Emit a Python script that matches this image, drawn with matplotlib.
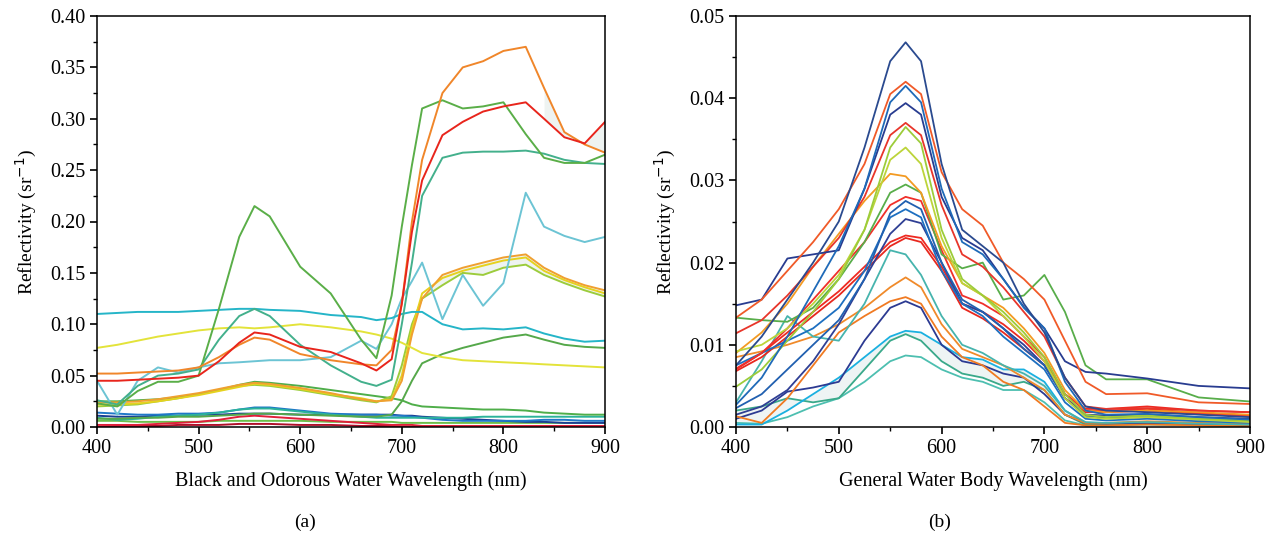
import numpy as np
import matplotlib
matplotlib.use("Agg")
import matplotlib.pyplot as plt
from matplotlib.ticker import MultipleLocator, FormatStrFormatter

plt.rcParams['font.family'] = ['Liberation Serif', 'DejaVu Serif']

# ---------------- (a) black and odorous water ----------------
wl_a = [400, 420, 440, 460, 480, 500, 520, 540, 555, 570, 600, 630, 660, 675, 690,
        700, 710, 720, 740, 760, 780, 800, 822, 840, 860, 880, 900]

a_orange = [.052, .052, .053, .054, .055, .058, .068, .080, .087, .085, .071, .065, .061, .060, .075,
            .120, .200, .260, .325, .350, .356, .366, .370, .330, .287, .275, .267]
a_red = [.045, .045, .046, .047, .048, .050, .064, .082, .092, .090, .078, .073, .062, .055, .066,
         .120, .190, .240, .284, .297, .307, .312, .316, .300, .282, .276, .297]
a_green_big = [.023, .020, .035, .044, .044, .050, .115, .185, .215, .205, .156, .130, .085, .067, .128,
               .195, .255, .310, .318, .310, .312, .316, .285, .262, .257, .257, .265]
a_teal_green = [.026, .022, .040, .050, .052, .056, .085, .108, .115, .108, .080, .060, .044, .040, .046,
                .100, .160, .225, .262, .267, .268, .268, .269, .266, .260, .257, .256]
a_cyan = [.110, .111, .112, .112, .112, .113, .114, .115, .115, .114, .113, .109, .107, .104, .106,
          .110, .112, .112, .100, .095, .096, .095, .097, .091, .086, .083, .084]
a_light_cyan = [.045, .012, .045, .058, .053, .058, .062, .063, .064, .065, .065, .068, .084, .076, .100,
                .125, .142, .160, .105, .148, .118, .140, .228, .195, .186, .180, .185]
a_yellow = [.077, .080, .084, .088, .091, .094, .096, .097, .096, .097, .100, .097, .093, .090, .086,
            .082, .077, .072, .068, .065, .064, .063, .062, .061, .060, .059, .058]
a_amber = [.024, .024, .025, .027, .030, .033, .037, .041, .043, .042, .038, .033, .027, .025, .026,
           .045, .090, .125, .148, .155, .160, .165, .168, .155, .145, .138, .133]
a_lime = [.020, .021, .022, .025, .028, .032, .036, .040, .041, .040, .036, .031, .026, .024, .030,
          .060, .100, .125, .138, .150, .148, .155, .158, .148, .140, .133, .127]
a_gold = [.022, .022, .023, .025, .028, .031, .035, .039, .042, .041, .037, .032, .028, .025, .027,
          .050, .095, .130, .145, .152, .157, .162, .165, .152, .143, .136, .130]
a_green_mid = [.008, .008, .009, .009, .010, .010, .011, .012, .013, .013, .012, .011, .010, .010, .012,
               .025, .045, .062, .071, .077, .082, .087, .090, .085, .080, .078, .077]
a_green_low = [.025, .025, .026, .027, .029, .032, .036, .041, .044, .043, .040, .036, .032, .030, .028,
               .026, .022, .020, .019, .018, .017, .017, .016, .014, .013, .012, .012]
a_teal_low = [.009, .007, .008, .010, .011, .012, .014, .017, .018, .018, .015, .012, .010, .009, .009,
              .009, .009, .009, .009, .009, .010, .010, .010, .010, .010, .010, .010]
a_blue_low = [.014, .013, .012, .012, .013, .013, .014, .017, .019, .019, .016, .013, .012, .012, .011,
              .011, .010, .009, .007, .006, .006, .006, .006, .007, .007, .006, .006]
a_navy_low = [.011, .010, .010, .011, .011, .012, .012, .013, .013, .013, .012, .012, .012, .012, .012,
              .011, .011, .010, .009, .008, .007, .006, .005, .005, .004, .004, .004]
a_red_low = [.002, .002, .002, .003, .004, .005, .007, .010, .011, .010, .008, .006, .004, .003, .002,
             .002, .002, .001, .001, .001, .001, .001, .001, .001, .001, .001, .001]
a_crimson = [.000, .001, .001, .001, .002, .002, .002, .003, .003, .003, .002, .002, .001, .001, .001,
             .000, .000, .000, .000, .000, .000, .000, .000, .000, .000, .000, .000]
a_green_flat = [.006, .006, .005, .005, .005, .005, .006, .006, .006, .006, .006, .005, .005, .005, .005,
                .004, .004, .004, .004, .004, .004, .004, .004, .004, .004, .004, .004]

curves_a = [
    (a_green_flat, '#6cbf4a'), (a_crimson, '#b0102a'), (a_red_low, '#e0203a'),
    (a_navy_low, '#1c3f94'), (a_blue_low, '#1f78c8'), (a_teal_low, '#2bb39a'),
    (a_green_low, '#4fae4a'), (a_green_mid, '#55a84a'), (a_lime, '#9ccc3c'),
    (a_gold, '#e6d21e'), (a_amber, '#f0a030'), (a_yellow, '#e3e33a'),
    (a_light_cyan, '#6cc4d4'), (a_cyan, '#25b5c8'), (a_teal_green, '#43b08c'),
    (a_green_big, '#5aae48'), (a_orange, '#f0862a'), (a_red, '#e8251c'),
]

# ---------------- (b) general water body ----------------
wl_b = [400, 425, 450, 475, 500, 525, 550, 565, 580, 600, 620, 640, 660, 680, 700,
        720, 740, 760, 800, 850, 900]

# values in 1e-3 sr^-1
b_navy1 = [7.5, 11, 15.5, 20, 25, 34, 44.5, 46.8, 44.5, 32, 24, 22, 20, 15, 11.5, 6, 2.5, 2, 1.8, 1.5, 1.2]
b_orange1 = [13.3, 15.5, 19, 22.5, 26.5, 32, 40.5, 42, 40.5, 31, 26.5, 24.5, 20, 18, 15.5, 10.5, 5.5, 4, 4.1, 3, 2.8]
b_blue1 = [2.7, 6, 11, 16.5, 22, 29, 39.5, 41.5, 39.5, 29, 22.5, 21, 18, 14.5, 12, 5.5, 2, 1.5, 1.6, 1.2, 0.9]
b_navy2 = [14.8, 15.5, 20.5, 21, 21.5, 29, 38, 39.4, 38, 28, 23, 21.5, 18, 14.6, 12, 8, 6.7, 6.5, 5.9, 5, 4.7]
b_red1 = [11.4, 13, 16, 19.5, 23, 28, 35.5, 37, 35.5, 27, 21, 19.5, 17, 14, 11, 6, 2.5, 2.2, 2.3, 2, 1.8]
b_lime1 = [4.9, 7, 10.5, 14, 18, 24, 34, 36.5, 34.5, 24, 18, 16, 14, 11.5, 8.5, 4, 1.5, 1.2, 1.4, 1, 0.8]
b_lime2 = [9.2, 10, 12, 15, 18.5, 24, 32.5, 34, 32, 23, 17.5, 16, 13.5, 11, 8, 3.5, 1.2, 1, 1.2, 0.9, 0.6]
b_orange2 = [9, 11.5, 15, 19.5, 23.5, 27.5, 30.8, 30.5, 28.5, 22, 17.5, 16, 14.5, 12, 9, 4.5, 2, 1.8, 2, 1.8, 1.5]
b_green1 = [13.3, 13, 12.8, 14.5, 18, 22.5, 28.5, 29.5, 28.5, 21, 19.3, 20, 15.5, 16, 18.5, 14, 7.5, 5.8, 5.8, 3.6, 3.1]
b_red2 = [7.1, 9, 12, 15.5, 19, 22.5, 27, 28, 27.5, 21.5, 16, 15, 13.5, 11, 8.5, 4, 2, 2, 2.2, 1.7, 1.3]
b_blue2 = [2.3, 4, 7, 10, 13, 18, 26, 27.5, 26.5, 20, 15.5, 14, 12, 9.5, 7.5, 3.5, 1.3, 1.1, 1.2, 0.9, 0.7]
b_blue3 = [7.5, 9, 10.5, 12, 14.5, 19, 25.5, 26.5, 25.5, 19, 15, 13.5, 11, 9, 7, 3, 1, 0.8, 1, 0.7, 0.5]
b_navy3 = [1.5, 2.5, 4.5, 8, 12.5, 18, 23.5, 25.3, 24.8, 20, 15, 14, 12, 10, 7.5, 3.5, 1.5, 1.4, 1.5, 1.2, 1]
b_red3 = [7, 9, 11.5, 14, 16.5, 19.5, 22.5, 23.3, 23, 19.5, 15, 14, 12.5, 10.5, 8, 4, 2.2, 2.2, 2.5, 2, 1.8]
b_red4 = [6.8, 8.5, 11, 13.5, 16, 19, 22, 23, 22.5, 19, 14.5, 13.2, 11.5, 9.5, 7.5, 3.5, 1.8, 1.8, 2, 1.6, 1.4]
b_teal1 = [3, 8, 13.5, 11, 10.5, 15, 21.5, 21, 18.5, 13.5, 10, 9, 7.5, 6.5, 5, 2, 0.6, 0.5, 0.6, 0.4, 0.3]
b_orange3 = [8.5, 9.2, 10, 11, 12.5, 14.5, 17, 18.2, 17, 12.5, 9.5, 8.5, 7.5, 6, 4.5, 1.5, 0.5, 0.5, 0.7, 0.5, 0.4]
b_orange4 = [1.3, 0.5, 3.5, 7.5, 11.5, 13.5, 15.3, 15.8, 15, 11, 8.5, 7.5, 5.5, 4.5, 2.5, 0.5, 0.2, 0.2, 0.3, 0.2, 0.1]
b_navy4 = [1, 2, 4.3, 4.8, 5.5, 10.5, 14.5, 15.3, 14.5, 10, 8, 7.5, 6.5, 6, 4, 1.5, 0.5, 0.4, 0.5, 0.3, 0.2]
b_cyan1 = [0.3, 0.3, 2, 4, 6, 8.5, 11, 11.7, 11.5, 10, 8.5, 8.2, 7, 7, 5.5, 2, 0.5, 0.4, 0.5, 0.3, 0.2]
b_teal2 = [2, 2.5, 3.5, 3, 3.5, 7, 10.5, 11.3, 10.5, 8, 6.5, 6, 5, 5.5, 4.5, 1.5, 0.3, 0.3, 0.4, 0.3, 0.2]
b_teal3 = [0.5, 0.4, 1.2, 2.5, 3.5, 5.5, 8, 8.7, 8.5, 7, 6, 5.5, 4.5, 4.5, 3, 0.8, 0.2, 0.2, 0.3, 0.2, 0.1]

curves_b = [
    (b_teal3, '#4dbfb0'), (b_teal2, '#3aa98a'), (b_cyan1, '#1ab0e0'), (b_navy4, '#2c3a92'),
    (b_orange4, '#f07a22'), (b_orange3, '#f08a2a'), (b_teal1, '#46b4ad'), (b_red4, '#e8281e'),
    (b_red3, '#ee2a22'), (b_navy3, '#2f3f94'), (b_blue3, '#1d6fc0'), (b_blue2, '#2160b0'),
    (b_red2, '#f0302a'), (b_green1, '#58ad4a'), (b_orange2, '#f39a22'), (b_lime2, '#bcd43a'),
    (b_lime1, '#9ccc3a'), (b_red1, '#e8352a'), (b_navy2, '#283c90'), (b_blue1, '#1f6ab8'),
    (b_orange1, '#f05a28'), (b_navy1, '#2a4a8f'),
]

fig = plt.figure(figsize=(12.79, 5.36), dpi=100)
ax1 = fig.add_axes([97 / 1279, 1 - 427 / 536, 508 / 1279, 411 / 536])
ax2 = fig.add_axes([736 / 1279, 1 - 427 / 536, 514 / 1279, 411 / 536])

# light shading between a few neighbouring spectra
tail = [w >= 840 for w in wl_a]
ax1.fill_between(wl_a, a_orange, a_red, where=tail, color='#eef3f1', lw=0)
ax1.fill_between(wl_a, a_amber, a_lime, color='#eef3f1', lw=0)
ax2.fill_between(wl_b, np.array(b_cyan1) / 1000, np.array(b_teal2) / 1000, color='#eef4f4', lw=0)

for vals, col in curves_a:
    ax1.plot(wl_a, vals, color=col, lw=1.4)
for vals, col in curves_b:
    ax2.plot(wl_b, np.array(vals) / 1000, color=col, lw=1.3)

for ax, ymax, major, minor in [(ax1, 0.40, 0.05, 0.025), (ax2, 0.05, 0.01, 0.005)]:
    ax.set_xlim(400, 900)
    ax.set_ylim(0, ymax)
    ax.xaxis.set_major_locator(MultipleLocator(100))
    ax.xaxis.set_minor_locator(MultipleLocator(50))
    ax.yaxis.set_major_locator(MultipleLocator(major))
    ax.yaxis.set_minor_locator(MultipleLocator(minor))
    ax.yaxis.set_major_formatter(FormatStrFormatter('%.2f'))
    ax.tick_params(which='major', direction='out', length=5, width=1.2, labelsize=14.5)
    ax.tick_params(which='minor', direction='out', length=3, width=1)
    for s in ax.spines.values():
        s.set_linewidth(1.1)
    ax.set_ylabel('Reflectivity (sr$^{-1}$)', fontsize=14, labelpad=8)

ax1.set_xlabel('Black and Odorous Water Wavelength (nm)', fontsize=14.5, labelpad=10)
ax2.set_xlabel('General Water Body Wavelength (nm)', fontsize=14.5, labelpad=10)

fig.text(305 / 1279, 1 - 522 / 536, '(a)', ha='center', va='center', fontsize=14)
fig.text(940 / 1279, 1 - 522 / 536, '(b)', ha='center', va='center', fontsize=14)

fig.savefig('out.png', dpi=100)
